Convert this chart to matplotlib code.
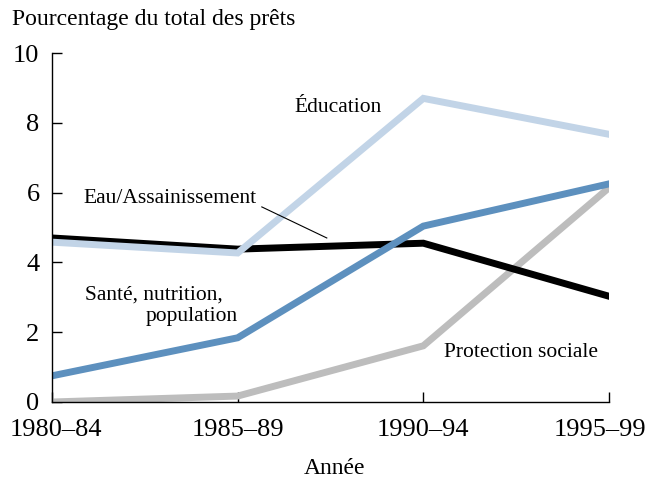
import numpy as np
import matplotlib.pyplot as plt
import matplotlib.transforms as mtransforms

# Share of total lending by sector, %
periods = ['1980–84', '1985–89', '1990–94', '1995–99']
education = [4.58, 4.27, 8.70, 7.67]
eau = [4.70, 4.38, 4.55, 3.03]
sante = [0.75, 1.84, 5.04, 6.25]
protection = [0.0, 0.17, 1.61, 6.14]

plt.rcParams['font.family'] = ['Liberation Serif', 'DejaVu Serif']

fig = plt.figure(figsize=(6.48, 4.8), dpi=100)
ax = fig.add_axes([52/648, 78/480, 557/648, 349/480])

x = np.arange(len(periods))
lw = 5
ax.plot(x, protection, color='#bdbdbd', lw=lw, solid_joinstyle='miter')
ax.plot(x, eau, color='black', lw=lw, solid_joinstyle='miter')
ax.plot(x, education, color='#c2d4e7', lw=lw, solid_joinstyle='miter')
ax.plot(x, sante, color='#5d90be', lw=lw, solid_joinstyle='miter')

ax.set_xlim(0, 3)
ax.set_ylim(0, 10)
ax.set_xticks(x)
ax.set_xticklabels(periods)
ax.set_yticks(range(0, 11, 2))
ax.tick_params(axis='both', direction='in', length=7, width=1, labelsize=19)
ax.tick_params(axis='x', pad=12)
ax.tick_params(axis='y', pad=9)
for s in ['top', 'right']:
    ax.spines[s].set_visible(False)
for s in ['left', 'bottom']:
    ax.spines[s].set_linewidth(1)

# nudge the end labels so they stay inside the figure
labels = ax.get_xticklabels()
labels[0].set_transform(labels[0].get_transform() + mtransforms.ScaledTranslation(4/100, 0, fig.dpi_scale_trans))
labels[-1].set_transform(labels[-1].get_transform() + mtransforms.ScaledTranslation(-9/100, 0, fig.dpi_scale_trans))

# labels on the lines
fs = 15.5
ax.text(1.54, 8.45, 'Éducation', fontsize=fs, ha='center', va='center')
ax.text(0.636, 5.82, 'Eau/Assainissement', fontsize=fs, ha='center', va='center')
ax.plot([1.13, 1.48], [5.59, 4.70], color='black', lw=0.8)
ax.text(0.18, 3.07, 'Santé, nutrition,', fontsize=fs, ha='left', va='center')
ax.text(1.0, 2.45, 'population', fontsize=fs, ha='right', va='center')
ax.text(2.525, 1.43, 'Protection sociale', fontsize=fs, ha='center', va='center')

fig.text(12/648, 1 - 20/480, 'Pourcentage du total des prêts', fontsize=17, ha='left', va='center')
fig.text(335/648, 1 - 468/480, 'Année', fontsize=17, ha='center', va='center')

plt.savefig('out.png', dpi=100)
